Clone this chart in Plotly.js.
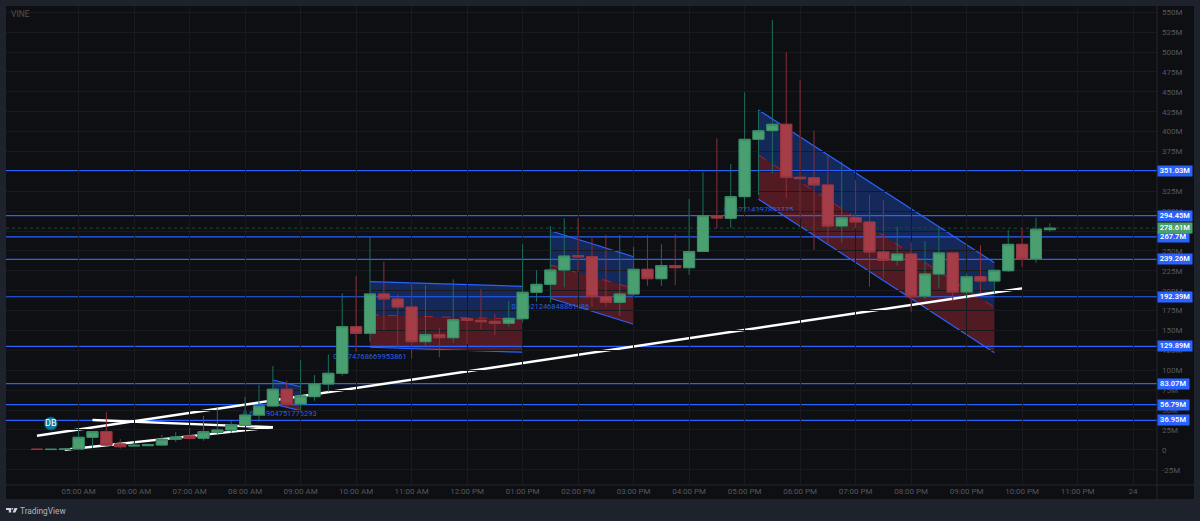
<!DOCTYPE html>
<html><head><meta charset="utf-8">
<script src="https://cdn.plot.ly/plotly-3.0.1.min.js"></script>
<style>html,body{margin:0;padding:0;background:#1e222d;overflow:hidden}</style>
</head><body><div id="chart" style="width:1200px;height:521px"></div>
<script>
const day = '2025-01-23 ';
const candleTimes = ['04:15','04:30','04:45','05:00','05:15','05:30','05:45','06:00','06:15','06:30','06:45','07:00','07:15','07:30','07:45','08:00','08:15','08:30','08:45','09:00','09:15','09:30','09:45','10:00','10:15','10:30','10:45','11:00','11:15','11:30','11:45','12:00','12:15','12:30','12:45','13:00','13:15','13:30','13:45','14:00','14:15','14:30','14:45','15:00','15:15','15:30','15:45','16:00','16:15','16:30','16:45','17:00','17:15','17:30','17:45','18:00','18:15','18:30','18:45','19:00','19:15','19:30','19:45','20:00','20:15','20:30','20:45','21:00','21:15','21:30','21:45','22:00','22:15','22:30'];
const opens = [0.8,0.3,0.5,1.0,15.7,22.8,7.3,4.8,5.2,6.0,13.2,17.3,14.5,22.0,24.9,30.8,43.7,55.1,76.1,57.6,66.8,82.7,96.2,154.7,146.5,195.9,189.6,179.5,135.9,144.7,140.9,164.8,162.8,161.5,159.0,164.8,198.0,208.0,226.0,244.0,242.7,192.5,185.4,195.9,226.9,215.1,231.7,228.9,249.3,294.3,291.0,318.2,390.3,401.1,409.2,342.6,342.1,332.9,281.3,291.8,286.4,248.7,238.2,246.1,193.3,221.0,247.4,198.4,217.6,212.2,225.1,258.3,239.9,276.7];
const highs = [0.9,0.7,1.0,27.0,23.0,47.9,13.6,10.2,8.2,18.6,22.4,27.4,42.5,52.2,36.2,66.8,81.5,105.3,86.9,112.9,94.0,120.0,196.7,218.5,267.9,236.5,195.5,210.1,207.2,153.1,214.3,166.6,201.8,170.7,187.1,258.3,226.0,281.3,291.0,291.4,265.9,270.0,270.0,255.3,270.0,258.3,271.3,315.3,348.8,391.6,359.3,449.4,427.2,540.3,499.7,464.9,401.1,370.6,362.2,339.2,320.3,314.0,280.5,260.8,262.5,279.7,247.4,221.9,257.1,225.6,276.3,279.2,291.8,284.7];
const lows = [0.3,0.2,0.4,0.6,1.9,4.8,1.4,3.9,4.8,5.2,9.8,13.2,11.4,19.9,21.5,30.3,35.3,54.2,54.2,47.9,61.7,73.0,93.2,123.3,135.9,150.6,129.6,115.0,128.9,116.3,134.6,133.0,151.5,144.3,154.7,160.3,186.2,184.9,204.3,223.9,179.9,179.9,168.6,193.3,206.3,205.9,207.2,220.1,248.7,278.8,278.8,299.3,320.3,347.6,316.2,291.0,251.2,258.7,260.3,278.4,205.0,215.6,231.0,173.6,189.2,203.8,186.2,189.2,197.5,196.7,223.5,230.2,235.2,274.2];
const closes = [0.4,0.6,0.9,15.7,22.8,6.0,3.9,5.7,6.4,13.2,16.1,14.5,22.8,24.9,31.2,43.7,55.1,76.1,57.2,67.6,82.7,96.2,154.7,146.5,195.9,189.6,179.5,135.9,144.7,140.9,163.5,162.8,161.0,159.0,165.3,198.0,208.0,226.0,243.6,242.7,192.5,185.4,195.9,226.9,215.1,231.7,228.9,249.3,294.3,291.4,318.2,390.3,401.1,409.2,342.6,340.8,332.9,281.3,291.8,286.4,248.7,238.2,246.1,192.5,221.0,247.4,198.4,217.6,212.2,225.6,258.3,239.9,277.2,278.61];

const levelValues = [351.03,294.45,267.7,239.26,192.39,129.89,83.07,56.79,36.95];
const levelLabels = ['351.03M','294.45M','267.7M','239.26M','192.39M','129.89M','83.07M','56.79M','36.95M'];
const lastPrice = 278.61;
const lastPriceLabel = '278.61M';

const channelStart = ['08:30','10:15','13:30','17:15'];
const channelEnd   = ['09:00','13:00','15:00','21:30'];
const channelTop   = [[87.7,79.3],[211.3,205.5],[275.4,242.7],[427.2,235.2]];
const channelMid   = [[71.4,63.9],[169.5,164.1],[232.3,203.0],[370.6,179.1]];
const channelLow   = [[57.6,49.2],[128.9,122.6],[190.5,157.8],[314.9,122.1]];
const channelText  = ['0.6643904751776293','0.8374768669953861','0.09621246848861686','0.362714397823775'];
const channelTextStart = ['08:00','09:45','12:45','16:30'];
const channelTextEnd   = ['09:15','10:45','14:15','18:00'];
const channelTextValue = [46.0,118.5,180.5,303.3];

const trendTimes  = ['04:15','22:00'];
const trendValues = [17.7,203.0];
const wedgeTimes  = ['04:45','08:30','05:15'];
const wedgeValues = [0.0,28.3,37.5];

const xTickTimes = ['2025-01-23 05:00','2025-01-23 06:00','2025-01-23 07:00','2025-01-23 08:00','2025-01-23 09:00','2025-01-23 10:00','2025-01-23 11:00','2025-01-23 12:00','2025-01-23 13:00','2025-01-23 14:00','2025-01-23 15:00','2025-01-23 16:00','2025-01-23 17:00','2025-01-23 18:00','2025-01-23 19:00','2025-01-23 20:00','2025-01-23 21:00','2025-01-23 22:00','2025-01-23 23:00','2025-01-24 00:00'];
const xTickLabels = ['05:00 AM','06:00 AM','07:00 AM','08:00 AM','09:00 AM','10:00 AM','11:00 AM','12:00 PM','01:00 PM','02:00 PM','03:00 PM','04:00 PM','05:00 PM','06:00 PM','07:00 PM','08:00 PM','09:00 PM','10:00 PM','11:00 PM','24'];
const yTickValues = [-25,0,25,50,75,100,125,150,175,200,225,250,275,300,325,350,375,400,425,450,475,500,525,550];
const yTickLabels = ['-25M','0','25M','50M','75M','100M','125M','150M','175M','200M','225M','250M','','300M','325M','','375M','400M','425M','450M','475M','500M','525M','550M'];

const xStart = '2025-01-23 03:41:30', xEnd = '2025-01-24 00:25:50';
const W = 1200, H = 521, L = 6, R = 43, T = 6, B = 36;
const pw = W - L - R, ph = H - T - B;
const px = x => (x - L) / pw, py = y => (H - B - y) / ph;
const blue = '#2962ff';
const p = t => (day + t).replace(' ', '_');

const shapes = [];
shapes.push({type:'rect',xref:'paper',yref:'paper',x0:0,x1:px(1194),y0:py(499),y1:1,fillcolor:'#0e0f13',line:{width:0},layer:'below'});
channelStart.forEach((s,i)=>{
  const e = channelEnd[i];
  shapes.push({type:'path',xref:'x',yref:'y',layer:'below',line:{width:0},fillcolor:'rgba(41,98,255,0.3)',
    path:`M${p(s)},${channelTop[i][0]}L${p(e)},${channelTop[i][1]}L${p(e)},${channelMid[i][1]}L${p(s)},${channelMid[i][0]}Z`});
  shapes.push({type:'path',xref:'x',yref:'y',layer:'below',line:{width:0},fillcolor:'rgba(242,54,69,0.3)',
    path:`M${p(s)},${channelMid[i][0]}L${p(e)},${channelMid[i][1]}L${p(e)},${channelLow[i][1]}L${p(s)},${channelLow[i][0]}Z`});
});
levelValues.forEach(v=>shapes.push({type:'line',xref:'x',yref:'y',layer:'below',x0:xStart,x1:xEnd,y0:v,y1:v,line:{color:blue,width:1.2}}));
shapes.push({type:'line',xref:'x',yref:'y',layer:'below',x0:xStart,x1:xEnd,y0:lastPrice,y1:lastPrice,line:{color:'#1a4a3a',width:1,dash:'dot'}});
channelStart.forEach((s,i)=>{
  const e = channelEnd[i];
  const seg = (a,c)=>({type:'line',xref:'x',yref:'y',layer:'below',x0:day+s,x1:day+e,y0:a[0],y1:a[1],line:c});
  shapes.push(seg(channelTop[i],{color:blue,width:1.2}));
  shapes.push(seg(channelLow[i],{color:blue,width:1.2}));
  shapes.push(seg(channelMid[i],{color:'#a8242f',width:1,dash:'dash'}));
  shapes.push({type:'line',xref:'x',yref:'y',layer:'below',x0:day+channelTextStart[i],x1:day+channelTextEnd[i],y0:channelTextValue[i],y1:channelTextValue[i],
    line:{width:0,color:'rgba(0,0,0,0)'},label:{text:channelText[i],textposition:'middle',yanchor:'middle',font:{family:'Roboto',size:7.5,color:'#2a5fe8'}}});
});
shapes.push({type:'line',xref:'x',yref:'y',layer:'below',x0:day+trendTimes[0],x1:day+trendTimes[1],y0:trendValues[0],y1:trendValues[1],line:{color:'#ffffff',width:2.4}});
for(let i=0;i<wedgeTimes.length-1;i++){
  shapes.push({type:'line',xref:'x',yref:'y',layer:'below',x0:day+wedgeTimes[i],x1:day+wedgeTimes[i+1],y0:wedgeValues[i],y1:wedgeValues[i+1],line:{color:'#ffffff',width:2.4}});
}
shapes.push({type:'line',xref:'paper',yref:'paper',x0:1,x1:1,y0:py(499),y1:1,line:{color:'#23262f',width:1}});
shapes.push({type:'line',xref:'paper',yref:'paper',x0:0,x1:px(1194),y0:0,y1:0,line:{color:'#23262f',width:1}});
const logo = `M${px(6)},${py(508)}L${px(11.2)},${py(508)}L${px(11.2)},${py(512.6)}L${px(8.8)},${py(512.6)}L${px(8.8)},${py(510)}L${px(6)},${py(510)}Z`+
             `M${px(14.6)},${py(508)}L${px(17.6)},${py(508)}L${px(15.4)},${py(512.6)}L${px(12.6)},${py(512.6)}Z`+
             `M${px(11.7)},${py(508)}L${px(13.2)},${py(508)}L${px(13.2)},${py(509.6)}L${px(11.7)},${py(509.6)}Z`;
shapes.push({type:'path',xref:'paper',yref:'paper',path:logo,fillcolor:'#d1d4dc',line:{width:0}});

const annotations = [];
const priceLabel = (v,t,c)=>({xref:'paper',yref:'y',x:1,y:v,xanchor:'left',yanchor:'middle',text:t,showarrow:false,
  bgcolor:c,borderpad:0,width:t.length>6?34:30.5,height:9.5,align:'center',font:{family:'Roboto',size:7.5,color:'#ffffff',weight:600}});
levelValues.forEach((v,i)=>annotations.push(priceLabel(v,levelLabels[i],blue)));
annotations.push(priceLabel(lastPrice,lastPriceLabel,'#4a9f70'));
annotations.push({xref:'paper',yref:'paper',x:px(9),y:py(14),xanchor:'left',yanchor:'middle',text:'VINE',showarrow:false,font:{family:'Roboto',size:8.5,color:'#4d5059'}});
annotations.push({xref:'paper',yref:'paper',x:px(18),y:py(510.5),xanchor:'left',yanchor:'middle',text:'TradingView',showarrow:false,font:{family:'Roboto',size:8.3,color:'#b2b5be'}});

const x = candleTimes.map(t=>day+t);
const bodyTop = opens.map((o,i)=>Math.max(o,closes[i]));
const bodyLow = opens.map((o,i)=>Math.min(o,closes[i]));
const wicks = {type:'candlestick',x,open:opens,high:highs,low:lows,close:closes,whiskerwidth:0,hoverinfo:'skip',
  increasing:{line:{color:'#1c6e5c',width:1},fillcolor:'#4a9f70'},
  decreasing:{line:{color:'#8a2f38',width:1},fillcolor:'#a53d48'}};
const bodies = {type:'candlestick',x,open:opens,high:bodyTop,low:bodyLow,close:closes,whiskerwidth:0,hoverinfo:'skip',
  increasing:{line:{color:'#3c8c66',width:1},fillcolor:'#4a9f70'},
  decreasing:{line:{color:'#953640',width:1},fillcolor:'#a53d48'}};
const badge = {type:'scatter',mode:'markers+text',x:[day+'04:30'],y:[33],text:['DB'],textposition:'middle center',hoverinfo:'skip',
  textfont:{family:'Roboto',size:9,color:'#ffffff'},marker:{size:13,color:'#0c7fa3',line:{color:'#0b4c63',width:1}}};

Plotly.newPlot('chart',[wicks,bodies,badge],{
  width:W,height:H,margin:{l:L,r:R,t:T,b:B,pad:0},showlegend:false,boxmode:'overlay',boxgap:0.2,boxgroupgap:0,
  paper_bgcolor:'#1e222d',plot_bgcolor:'#0e0f13',
  xaxis:{type:'date',range:[xStart,xEnd],tickmode:'array',tickvals:xTickTimes,ticktext:xTickLabels,showgrid:true,gridcolor:'#181a1f',gridwidth:1,zeroline:false,showline:false,ticks:'',ticklen:0,
    rangeslider:{visible:false},tickfont:{family:'Roboto',size:8,color:'#55575f'}},
  yaxis:{side:'right',range:[-44.25,557.9],tickmode:'array',tickvals:yTickValues,ticktext:yTickLabels,showgrid:true,gridcolor:'#181a1f',gridwidth:1,zeroline:false,showline:false,ticks:'',ticklen:0,ticklabelstandoff:4,
    tickfont:{family:'Roboto',size:8,color:'#55575f'}},
  shapes,annotations
},{displayModeBar:false,staticPlot:true});
</script></body></html>
